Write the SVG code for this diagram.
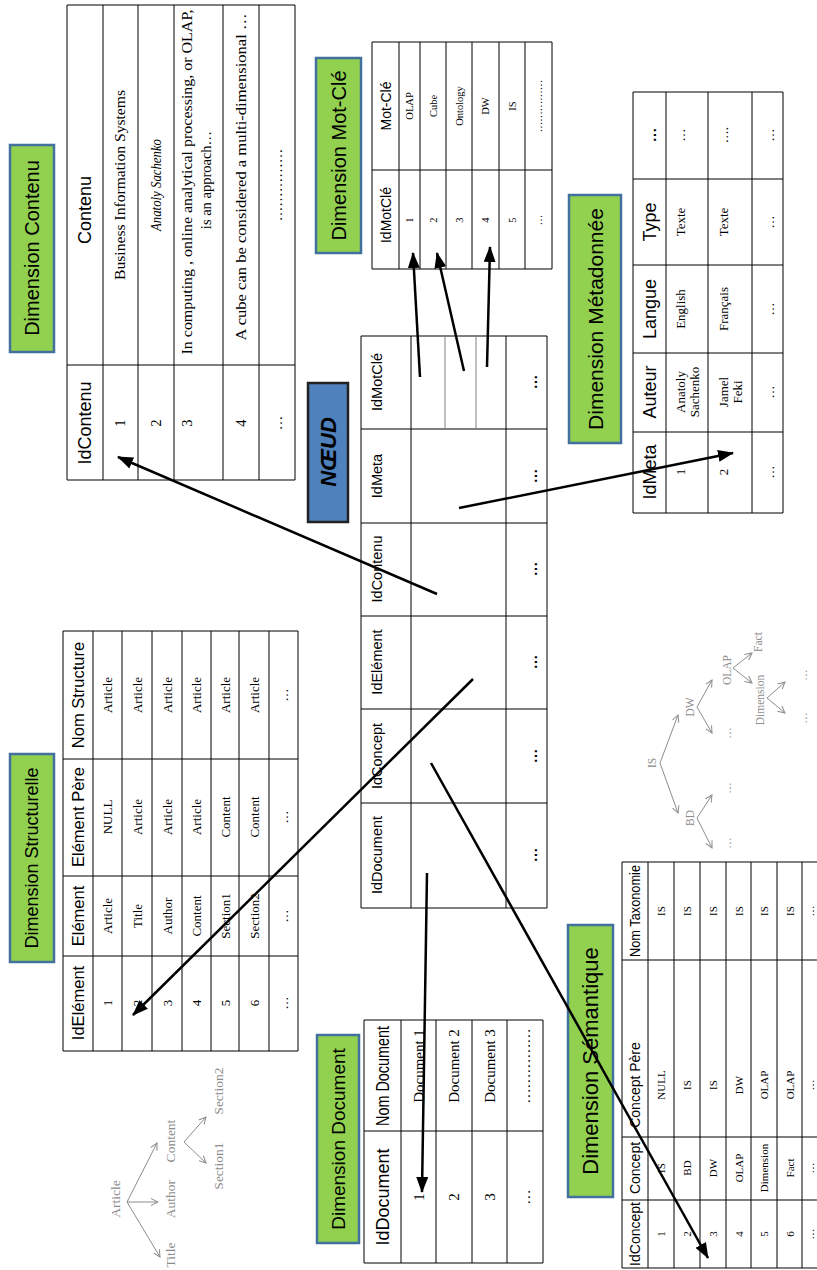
<svg xmlns="http://www.w3.org/2000/svg" width="817" height="1270" viewBox="0 0 817 1270">
<defs>
  <marker id="ah" markerUnits="userSpaceOnUse" markerWidth="16" markerHeight="12" refX="15" refY="6" orient="auto"><path d="M0,0 L16,6 L0,12 Z" fill="#000"/></marker>
  <marker id="oh" markerUnits="userSpaceOnUse" markerWidth="8" markerHeight="8" refX="7" refY="4" orient="auto"><path d="M0,0.5 L7,4 L0,7.5" fill="none" stroke="#8c8c8c" stroke-width="1"/></marker>
</defs>
<style>
  text { text-anchor: middle; dominant-baseline: central; }
  .h { font-family: "Liberation Sans", Arial, sans-serif; fill: #000; }
  .d { font-family: "Liberation Serif", "Times New Roman", serif; fill: #000; }
  .grid { stroke: #000; stroke-width: 1; fill: none; }
  .sub { stroke: #808080; stroke-width: 1; fill: none; }
  .lab rect { fill: #92D050; stroke: #41719C; stroke-width: 2.5; }
  .lab text { font-family: "Liberation Sans", Arial, sans-serif; fill: #000; }
  .link { stroke: #000; stroke-width: 2.5; fill: none; marker-end: url(#ah); }
  .tree line { stroke: #8c8c8c; stroke-width: 1; marker-end: url(#oh); }
  .tree text { font-family: "Liberation Serif", "Times New Roman", serif; fill: #8c8c8c; }
</style>
<rect width="817" height="1270" fill="#fff"/>

<!-- Dimension Contenu -->
<g id="dim-contenu">
  <g class="lab"><rect x="10" y="145" width="44" height="207"/><text transform="translate(32 248) rotate(-90)" font-size="20">Dimension Contenu</text></g>
  <path class="grid" d="M67,5H295M67,365H295M67,480H295M67,5V480M103,5V480M138,5V480M174,5V480M223,5V480M259,5V480M295,5V480"/>
  <text class="h" font-size="18" transform="translate(85 210) rotate(-90)">Contenu</text>
  <text class="h" font-size="18" transform="translate(85 423) rotate(-90)">IdContenu</text>
  <g class="d" font-size="14.5">
    <text transform="translate(120 423) rotate(-90)">1</text>
    <text transform="translate(120 185) rotate(-90)" textLength="190" lengthAdjust="spacingAndGlyphs">Business Information Systems</text>
    <text transform="translate(156 423) rotate(-90)">2</text>
    <text transform="translate(156 185) rotate(-90)" font-style="italic" textLength="92" lengthAdjust="spacingAndGlyphs">Anatoly Sachenko</text>
    <text transform="translate(187 423) rotate(-90)">3</text>
    <text transform="translate(187 182) rotate(-90)" textLength="345" lengthAdjust="spacingAndGlyphs">In computing , online analytical processing, or OLAP,</text>
    <text transform="translate(206 180) rotate(-90)">is an approach…</text>
    <text transform="translate(241 423) rotate(-90)">4</text>
    <text transform="translate(241 177) rotate(-90)" textLength="327" lengthAdjust="spacingAndGlyphs">A cube can be considered a multi-dimensional …</text>
    <text transform="translate(277 423) rotate(-90)">…</text>
    <text transform="translate(277 185) rotate(-90)">……………</text>
  </g>
</g>

<!-- Dimension Mot-Clé -->
<g id="dim-motcle">
  <g class="lab"><rect x="316" y="58" width="45" height="195"/><text transform="translate(338.5 155.5) rotate(-90)" font-size="20">Dimension Mot-Clé</text></g>
  <path class="grid" d="M372,42H552M372,170H552M372,269H552M372,42V269M399,42V269M420,42V269M446,42V269M472,42V269M499,42V269M525,42V269M552,42V269"/>
  <text class="h" font-size="14" transform="translate(386 106) rotate(-90)">Mot-Clé</text>
  <text class="h" font-size="14" transform="translate(386 215) rotate(-90)">IdMotClé</text>
  <g class="d" font-size="10.5">
    <text transform="translate(409.5 220) rotate(-90)">1</text><text transform="translate(409.5 106) rotate(-90)">OLAP</text>
    <text transform="translate(433 220) rotate(-90)">2</text><text transform="translate(433 106) rotate(-90)">Cube</text>
    <text transform="translate(459 220) rotate(-90)">3</text><text transform="translate(459 106) rotate(-90)">Ontology</text>
    <text transform="translate(485.5 220) rotate(-90)">4</text><text transform="translate(485.5 106) rotate(-90)">DW</text>
    <text transform="translate(512 220) rotate(-90)">5</text><text transform="translate(512 106) rotate(-90)">IS</text>
    <text transform="translate(538.5 220) rotate(-90)">…</text><text transform="translate(538.5 106) rotate(-90)">……………</text>
  </g>
</g>

<!-- Fact table: NŒUD -->
<g id="noeud">
  <rect x="308" y="383" width="40" height="139" fill="#4F81BD" stroke="#222" stroke-width="2.5"/>
  <text class="h" font-size="22" font-weight="bold" font-style="italic" transform="translate(328 452) rotate(-90)">NŒUD</text>
  <path class="grid" d="M361,336H547M361,429H547M361,523H547M361,616H547M361,709H547M361,803H547M361,908H547M361,336V908M411,336V908M506,336V908M547,336V908"/>
  <path class="sub" d="M445,336V429M476,336V429"/>
  <g class="h" font-size="14.5">
    <text transform="translate(377 382) rotate(-90)">IdMotClé</text>
    <text transform="translate(377 476) rotate(-90)">IdMeta</text>
    <text transform="translate(377 569) rotate(-90)">IdContenu</text>
    <text transform="translate(377 662) rotate(-90)">IdElément</text>
    <text transform="translate(377 756) rotate(-90)">IdConcept</text>
    <text transform="translate(377 855) rotate(-90)">IdDocument</text>
  </g>
  <g class="h" font-size="15" font-weight="bold">
    <text transform="translate(531 382) rotate(-90)">…</text>
    <text transform="translate(531 476) rotate(-90)">…</text>
    <text transform="translate(531 569) rotate(-90)">…</text>
    <text transform="translate(531 662) rotate(-90)">…</text>
    <text transform="translate(531 756) rotate(-90)">…</text>
    <text transform="translate(531 855) rotate(-90)">…</text>
  </g>
</g>

<!-- Dimension Métadonnée -->
<g id="dim-meta">
  <g class="lab"><rect x="569" y="195" width="52" height="248"/><text transform="translate(595 319) rotate(-90)" font-size="21">Dimension Métadonnée</text></g>
  <path class="grid" d="M633,92H783M633,179H783M633,265H783M633,353H783M633,432H783M633,513H783M633,92V513M666,92V513M708,92V513M752,92V513M783,92V513"/>
  <g class="h" font-size="18">
    <text transform="translate(650 135) rotate(-90)" font-weight="bold" font-size="15">…</text>
    <text transform="translate(650 222) rotate(-90)">Type</text>
    <text transform="translate(650 309) rotate(-90)">Langue</text>
    <text transform="translate(650 392) rotate(-90)">Auteur</text>
    <text transform="translate(650 472) rotate(-90)">IdMeta</text>
  </g>
  <g class="d" font-size="13">
    <text transform="translate(680 472) rotate(-90)">1</text>
    <text transform="translate(680 392) rotate(-90)">Anatoly</text>
    <text transform="translate(694 392) rotate(-90)">Sachenko</text>
    <text transform="translate(680 309) rotate(-90)">English</text>
    <text transform="translate(680 222) rotate(-90)">Texte</text>
    <text transform="translate(680 135) rotate(-90)">…</text>
    <text transform="translate(723 472) rotate(-90)">2</text>
    <text transform="translate(723 392) rotate(-90)">Jamel</text>
    <text transform="translate(737 392) rotate(-90)">Feki</text>
    <text transform="translate(723 309) rotate(-90)">Français</text>
    <text transform="translate(723 222) rotate(-90)">Texte</text>
    <text transform="translate(723 135) rotate(-90)">….</text>
    <text transform="translate(769 472) rotate(-90)">…</text>
    <text transform="translate(769 392) rotate(-90)">…</text>
    <text transform="translate(769 309) rotate(-90)">…</text>
    <text transform="translate(769 222) rotate(-90)">…</text>
    <text transform="translate(769 135) rotate(-90)">…</text>
  </g>
</g>

<!-- Dimension Structurelle -->
<g id="dim-structurelle">
  <g class="lab"><rect x="10" y="754" width="44" height="208"/><text transform="translate(32 858) rotate(-90)" font-size="18">Dimension Structurelle</text></g>
  <path class="grid" d="M63,631H298M63,759H298M63,876H298M63,956H298M63,1051H298M63,631V1051M93,631V1051M122,631V1051M152,631V1051M182,631V1051M211,631V1051M239,631V1051M269,631V1051M298,631V1051"/>
  <g class="h" font-size="16.5">
    <text transform="translate(78 695) rotate(-90)">Nom Structure</text>
    <text transform="translate(78 817) rotate(-90)">Elément Père</text>
    <text transform="translate(78 916) rotate(-90)">Elément</text>
    <text transform="translate(78 1003) rotate(-90)">IdElément</text>
  </g>
  <g class="d" font-size="13">
    <text transform="translate(107.5 1003) rotate(-90)">1</text><text transform="translate(107.5 916) rotate(-90)">Article</text><text transform="translate(107.5 817) rotate(-90)">NULL</text><text transform="translate(107.5 695) rotate(-90)">Article</text>
    <text transform="translate(137 1003) rotate(-90)">2</text><text transform="translate(137 916) rotate(-90)">Title</text><text transform="translate(137 817) rotate(-90)">Article</text><text transform="translate(137 695) rotate(-90)">Article</text>
    <text transform="translate(167 1003) rotate(-90)">3</text><text transform="translate(167 916) rotate(-90)">Author</text><text transform="translate(167 817) rotate(-90)">Article</text><text transform="translate(167 695) rotate(-90)">Article</text>
    <text transform="translate(196.5 1003) rotate(-90)">4</text><text transform="translate(196.5 916) rotate(-90)">Content</text><text transform="translate(196.5 817) rotate(-90)">Article</text><text transform="translate(196.5 695) rotate(-90)">Article</text>
    <text transform="translate(225 1003) rotate(-90)">5</text><text transform="translate(225 916) rotate(-90)">Section1</text><text transform="translate(225 817) rotate(-90)">Content</text><text transform="translate(225 695) rotate(-90)">Article</text>
    <text transform="translate(254 1003) rotate(-90)">6</text><text transform="translate(254 916) rotate(-90)">Section2</text><text transform="translate(254 817) rotate(-90)">Content</text><text transform="translate(254 695) rotate(-90)">Article</text>
    <text transform="translate(283.5 1003) rotate(-90)">…</text><text transform="translate(283.5 916) rotate(-90)">…</text><text transform="translate(283.5 817) rotate(-90)">…</text><text transform="translate(283.5 695) rotate(-90)">…</text>
  </g>
</g>

<!-- element tree of the document structure -->
<g id="tree-structure" class="tree">
  <line x1="127" y1="1202" x2="160" y2="1257"/>
  <line x1="127" y1="1202" x2="158" y2="1202"/>
  <line x1="127" y1="1202" x2="157" y2="1143"/>
  <line x1="184" y1="1142" x2="206" y2="1163"/>
  <line x1="184" y1="1142" x2="206" y2="1117"/>
  <g font-size="13.5">
    <text transform="translate(115 1199) rotate(-90)">Article</text>
    <text transform="translate(170 1255) rotate(-90)">Title</text>
    <text transform="translate(170 1199) rotate(-90)">Author</text>
    <text transform="translate(170 1141) rotate(-90)">Content</text>
    <text transform="translate(218 1166) rotate(-90)">Section1</text>
    <text transform="translate(218 1091) rotate(-90)">Section2</text>
  </g>
</g>

<!-- Dimension Document -->
<g id="dim-document">
  <g class="lab"><rect x="317" y="1035" width="42" height="208"/><text transform="translate(338 1139) rotate(-90)" font-size="19">Dimension Document</text></g>
  <path class="grid" d="M364,1020H543M364,1131H543M364,1263H543M364,1020V1263M401,1020V1263M436,1020V1263M472,1020V1263M507,1020V1263M543,1020V1263"/>
  <g class="h" font-size="18">
    <text transform="translate(382.5 1076) rotate(-90)" textLength="100" lengthAdjust="spacingAndGlyphs">Nom Document</text>
    <text transform="translate(382.5 1197) rotate(-90)">IdDocument</text>
  </g>
  <g class="d" font-size="15">
    <text transform="translate(418.5 1197) rotate(-90)">1</text><text transform="translate(418.5 1066) rotate(-90)">Document 1</text>
    <text transform="translate(454 1197) rotate(-90)">2</text><text transform="translate(454 1066) rotate(-90)">Document 2</text>
    <text transform="translate(489.5 1197) rotate(-90)">3</text><text transform="translate(489.5 1066) rotate(-90)">Document 3</text>
    <text transform="translate(525 1197) rotate(-90)">…</text><text transform="translate(525 1066) rotate(-90)">……………</text>
  </g>
</g>

<!-- Dimension Sémantique -->
<g id="dim-semantique">
  <g class="lab"><rect x="568" y="925" width="45" height="272"/><text transform="translate(590.5 1061) rotate(-90)" font-size="22">Dimension Sémantique</text></g>
  <path class="grid" d="M622,862H828M622,960H828M622,1137H828M622,1200H828M622,1268H828M622,862V1268M648,862V1268M674,862V1268M700,862V1268M726,862V1268M751,862V1268M777,862V1268M802,862V1268"/>
  <g class="h" font-size="14">
    <text transform="translate(635 911) rotate(-90)" textLength="92" lengthAdjust="spacingAndGlyphs">Nom Taxonomie</text>
    <text transform="translate(635 1085) rotate(-90)">Concept Père</text>
    <text transform="translate(635 1168) rotate(-90)">Concept</text>
    <text transform="translate(635 1234) rotate(-90)">IdConcept</text>
  </g>
  <g class="d" font-size="11">
    <text transform="translate(661 1234) rotate(-90)">1</text><text transform="translate(661 1168) rotate(-90)">IS</text><text transform="translate(661 1085) rotate(-90)">NULL</text><text transform="translate(661 911) rotate(-90)">IS</text>
    <text transform="translate(687 1234) rotate(-90)">2</text><text transform="translate(687 1168) rotate(-90)">BD</text><text transform="translate(687 1085) rotate(-90)">IS</text><text transform="translate(687 911) rotate(-90)">IS</text>
    <text transform="translate(713 1234) rotate(-90)">3</text><text transform="translate(713 1168) rotate(-90)">DW</text><text transform="translate(713 1085) rotate(-90)">IS</text><text transform="translate(713 911) rotate(-90)">IS</text>
    <text transform="translate(738.5 1234) rotate(-90)">4</text><text transform="translate(738.5 1168) rotate(-90)">OLAP</text><text transform="translate(738.5 1085) rotate(-90)">DW</text><text transform="translate(738.5 911) rotate(-90)">IS</text>
    <text transform="translate(764 1234) rotate(-90)">5</text><text transform="translate(764 1168) rotate(-90)">Dimension</text><text transform="translate(764 1085) rotate(-90)">OLAP</text><text transform="translate(764 911) rotate(-90)">IS</text>
    <text transform="translate(789.5 1234) rotate(-90)">6</text><text transform="translate(789.5 1168) rotate(-90)">Fact</text><text transform="translate(789.5 1085) rotate(-90)">OLAP</text><text transform="translate(789.5 911) rotate(-90)">IS</text>
    <text transform="translate(810 1234) rotate(-90)">…</text><text transform="translate(810 1168) rotate(-90)">…</text><text transform="translate(810 1085) rotate(-90)">…</text><text transform="translate(810 911) rotate(-90)">…</text>
  </g>
</g>

<!-- concept taxonomy -->
<g id="tree-taxonomy" class="tree">
  <line x1="660" y1="763" x2="678" y2="813"/>
  <line x1="660" y1="763" x2="678" y2="715"/>
  <line x1="697" y1="818" x2="712" y2="848"/>
  <line x1="697" y1="818" x2="712" y2="795"/>
  <line x1="697" y1="707" x2="712" y2="733"/>
  <line x1="697" y1="707" x2="712" y2="680"/>
  <line x1="733" y1="668" x2="752" y2="683"/>
  <line x1="733" y1="668" x2="752" y2="653"/>
  <line x1="767" y1="698" x2="785" y2="713"/>
  <line x1="767" y1="698" x2="785" y2="682"/>
  <g font-size="11.5">
    <text transform="translate(652 763) rotate(-90)">IS</text>
    <text transform="translate(690 818) rotate(-90)">BD</text>
    <text transform="translate(690 707) rotate(-90)">DW</text>
    <text transform="translate(727 670) rotate(-90)">OLAP</text>
    <text transform="translate(758 642) rotate(-90)">Fact</text>
    <text transform="translate(760 700) rotate(-90)">Dimension</text>
    <text transform="translate(727 843) rotate(-90)">…</text>
    <text transform="translate(727 788) rotate(-90)">…</text>
    <text transform="translate(727 733) rotate(-90)">…</text>
    <text transform="translate(803 718) rotate(-90)">…</text>
    <text transform="translate(803 675) rotate(-90)">…</text>
  </g>
</g>

<!-- foreign keys from the fact table to the dimensions -->
<g id="links">
  <line class="link" x1="437" y1="594" x2="118" y2="457"/>
  <line class="link" x1="473" y1="679" x2="133" y2="1015"/>
  <line class="link" x1="427" y1="873" x2="422" y2="1192"/>
  <line class="link" x1="431" y1="763" x2="708" y2="1258"/>
  <line class="link" x1="459" y1="508" x2="733" y2="453"/>
  <line class="link" x1="420" y1="377" x2="413" y2="253"/>
  <line class="link" x1="464" y1="371" x2="437" y2="253"/>
  <line class="link" x1="487" y1="367" x2="490" y2="247"/>
</g>
</svg>
